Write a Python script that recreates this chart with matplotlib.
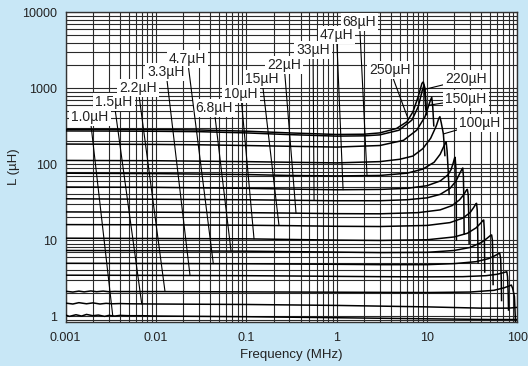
import numpy as np
import matplotlib
matplotlib.use("Agg")
import matplotlib.pyplot as plt
from matplotlib.ticker import LogLocator, NullFormatter

plt.rcParams['font.family'] = ['Liberation Sans', 'DejaVu Sans']

# ---------------- data (frequency in MHz, inductance in uH) ----------------
f_250 = [0.001, 0.003, 0.01, 0.03, 0.1, 0.3, 1, 2, 3, 4.6, 6, 7, 8, 8.8, 9.1, 9.3, 9.5, 9.7]
L_250 = [288, 287, 285, 282, 272, 258, 246, 248, 258, 295, 362, 490, 775, 1160, 1210, 1100, 800, 520]

f_220 = [0.001, 0.003, 0.01, 0.03, 0.1, 0.3, 1, 2, 3, 4.9, 6.8, 8, 8.9, 9.3, 9.5, 9.7, 9.9]
L_220 = [274, 273, 271, 268, 258, 245, 234, 236, 243, 280, 380, 570, 950, 1100, 1000, 700, 450]

f_150 = [0.001, 0.003, 0.01, 0.03, 0.1, 0.3, 1, 3, 5.5, 7.7, 9.5, 10.9, 11.3, 11.6, 11.9]
L_150 = [184, 183, 182, 180, 176, 172, 168, 176, 206, 280, 420, 690, 760, 560, 320]

f_100 = [0.001, 0.01, 0.1, 0.3, 1, 3, 5, 7, 9, 11, 12.7, 13.5, 13.9, 14.4, 15.2, 15.8]
L_100 = [112, 111, 108, 106, 104, 108, 116, 128, 160, 220, 320, 400, 422, 350, 250, 130]

f_68 = [0.001, 0.01, 0.1, 0.3, 1, 3, 6, 9, 12, 14, 15.3, 16, 16.3, 16.7, 17.2, 17.6]
L_68 = [76, 75, 73, 71, 70, 71, 76, 86, 106, 135, 170, 192, 197, 150, 80, 40]

f_47 = [0.001, 0.01, 0.1, 0.3, 1, 3, 6, 10, 14, 17, 18.5, 19.6, 20.2, 20.5, 20.9, 21.1, 21.2]
L_47 = [50, 49.5, 48, 47, 46, 46.5, 48, 52, 60, 72, 85, 105, 120, 123, 90, 40, 10]

f_33 = [0.001, 0.01, 0.1, 0.3, 1, 3, 6, 10, 14, 18, 21, 23, 24.4, 24.9, 25.3, 25.6, 25.8]
L_33 = [35, 34.5, 34, 33.5, 33, 33, 34, 36, 40, 48, 60, 75, 86, 89, 70, 35, 12]

f_22 = [0.001, 0.01, 0.1, 0.3, 1, 3, 8, 14, 19, 23, 25.5, 27.2, 28, 28.6, 29, 29.3]
L_22 = [23.5, 23.3, 23, 22.7, 22.3, 22.2, 23, 25, 28.5, 34, 39.5, 45, 46.6, 40, 22, 9]

f_15 = [0.001, 0.01, 0.1, 0.3, 1, 3, 10, 18, 25, 30, 33, 34.8, 35.4, 36, 36.5, 36.8]
L_15 = [16, 15.9, 15.7, 15.5, 15.2, 15.1, 15.6, 17, 19.5, 23, 27, 30, 30.5, 25, 12, 5]

f_10 = [0.001, 0.01, 0.1, 0.3, 1, 3, 10, 20, 28, 35, 39.5, 41.8, 42.5, 43.1, 43.4, 43.6]
L_10 = [10.6, 10.5, 10.4, 10.2, 10, 9.9, 10.1, 11, 12.3, 14.5, 16.8, 18.2, 18.4, 14, 7, 3.8]

f_6p8 = [0.001, 0.01, 0.1, 0.3, 1, 3, 10, 20, 30, 40, 46, 50, 52, 53, 53.6, 54]
L_6p8 = [7.3, 7.25, 7.15, 7.05, 6.95, 6.85, 6.9, 7.3, 8, 9.3, 10.5, 11.4, 11.7, 10, 6, 2.6]

f_4p7 = [0.001, 0.01, 0.1, 0.3, 1, 3, 10, 20, 35, 48, 56, 61, 64, 65.5, 66.5, 67]
L_4p7 = [4.95, 4.92, 4.88, 4.84, 4.8, 4.75, 4.75, 4.9, 5.2, 5.7, 6.2, 6.55, 6.7, 5.6, 3, 1.6]

f_3p3 = [0.001, 0.01, 0.1, 0.3, 1, 3, 10, 25, 45, 60, 70, 75, 76.6, 78, 79.3, 80]
L_3p3 = [3.45, 3.43, 3.4, 3.37, 3.33, 3.3, 3.28, 3.3, 3.4, 3.55, 3.72, 3.81, 3.83, 3.3, 2, 1.2]

f_2p2 = [0.001, 0.0012, 0.0014, 0.0016, 0.0019, 0.0022, 0.0026, 0.003, 0.0035, 0.004, 0.005,
         0.007, 0.01, 0.1, 1, 10, 30, 55, 72, 82, 86, 89, 93, 95.5]
L_2p2 = [2.12, 2.07, 2.13, 2.08, 2.14, 2.09, 2.13, 2.09, 2.11, 2.1, 2.1,
         2.1, 2.1, 2.08, 2.06, 2.04, 2.07, 2.18, 2.36, 2.5, 2.56, 2.3, 1.8, 0.85]

f_1p5 = [0.001, 0.0012, 0.0014, 0.0017, 0.002, 0.0024, 0.0028, 0.0033, 0.004, 0.005, 0.01,
         0.1, 1, 10, 40, 80, 100]
L_1p5 = [1.48, 1.44, 1.5, 1.45, 1.49, 1.44, 1.47, 1.45, 1.46, 1.45, 1.44,
         1.42, 1.38, 1.32, 1.27, 1.27, 1.3]

f_1p0 = [0.001, 0.0011, 0.0013, 0.0015, 0.0017, 0.002, 0.0023, 0.0027, 0.003, 0.0035, 0.004,
         0.005, 0.007, 0.01, 0.1, 1, 10, 50, 100]
L_1p0 = [1.03, 0.99, 1.04, 1.0, 1.05, 1.01, 1.03, 0.99, 1.02, 1.0, 1.02,
         1.01, 1.01, 1.0, 0.98, 0.95, 0.92, 0.9, 0.9]

curve_names = ["250µH", "220µH", "150µH", "100µH", "68µH", "47µH", "33µH", "22µH",
               "15µH", "10µH", "6.8µH", "4.7µH", "3.3µH", "2.2µH", "1.5µH", "1.0µH"]
curve_f = [f_250, f_220, f_150, f_100, f_68, f_47, f_33, f_22,
           f_15, f_10, f_6p8, f_4p7, f_3p3, f_2p2, f_1p5, f_1p0]
curve_L = [L_250, L_220, L_150, L_100, L_68, L_47, L_33, L_22,
           L_15, L_10, L_6p8, L_4p7, L_3p3, L_2p2, L_1p5, L_1p0]

x_ticks = [0.001, 0.01, 0.1, 1, 10, 100]
x_ticklabels = ["0.001", "0.01", "0.1", "1", "10", "100"]
y_ticks = [1, 10, 100, 1000, 10000]
y_ticklabels = ["1", "10", "100", "1000", "10000"]

# ---------------- layout: label centre (MHz, uH) and leader end frequency ----------------
label_pos = {
    "1.0µH": (0.00186, 423, 0.00332),
    "1.5µH": (0.00343, 666, 0.00695),
    "2.2µH": (0.00632, 1018, 0.01258),
    "3.3µH": (0.0129, 1656, 0.0238),
    "4.7µH": (0.0223, 2410, 0.0431),
    "6.8µH": (0.0439, 545, 0.0677),
    "10µH": (0.0869, 834, 0.1217),
    "15µH": (0.149, 1327, 0.230),
    "22µH": (0.262, 2028, 0.355),
    "33µH": (0.548, 3198, 0.562),
    "47µH": (0.998, 5037, 1.178),
    "68µH": (1.79, 7540, 2.17),
    "250µH": (3.9, 1742, 6.22),
    "220µH": (27.1, 1315, 8.9),
    "150µH": (27.1, 716, 10.47),
    "100µH": (38.7, 346, 15.2),
}

BG = '#c8e7f6'
fig = plt.figure(figsize=(5.28, 3.66), dpi=100, facecolor=BG)
ax = fig.add_axes([0.1244, 0.1208, 0.8553, 0.8456])
ax.set_facecolor('white')
ax.set_xscale('log')
ax.set_yscale('log')
ax.set_xlim(0.001, 100)
ax.set_ylim(0.84, 10000)

ax.xaxis.set_minor_locator(LogLocator(base=10, subs=range(2, 10), numticks=20))
ax.yaxis.set_minor_locator(LogLocator(base=10, subs=range(2, 10), numticks=20))
ax.xaxis.set_minor_formatter(NullFormatter())
ax.yaxis.set_minor_formatter(NullFormatter())
ax.set_xticks(x_ticks)
ax.set_xticklabels(x_ticklabels)
ax.set_yticks(y_ticks)
ax.set_yticklabels(y_ticklabels)
ax.grid(which='both', color='#2a2a2a', lw=0.8)
ax.set_axisbelow(True)
ax.tick_params(which='both', length=0, labelsize=9, colors='#222222')
ax.tick_params(axis='x', pad=7)
ax.tick_params(axis='y', pad=6)
for s in ax.spines.values():
    s.set_color('#333333')
    s.set_linewidth(1.0)

for fv, Lv in zip(curve_f, curve_L):
    ax.plot(fv, Lv, color='black', lw=1.1, zorder=3)

for name, fv, Lv in zip(curve_names, curve_f, curve_L):
    tx, ty, fe = label_pos[name]
    le = 10 ** np.interp(np.log10(fe), np.log10(fv), np.log10(Lv))
    ax.annotate(name, xy=(fe, le), xytext=(tx, ty), textcoords='data',
                ha='center', va='center', fontsize=10, color='#222222', zorder=5,
                bbox=dict(boxstyle='square,pad=0.15', fc='white', ec='none'),
                arrowprops=dict(arrowstyle='-', color='black', lw=0.8,
                                shrinkA=0, shrinkB=0))

ax.set_xlabel('Frequency (MHz)', fontsize=9.5, color='#222222', labelpad=4)
ax.set_ylabel('L (µH)', fontsize=9.5, color='#222222', labelpad=2)

fig.savefig('out.png', dpi=100, facecolor=BG)
